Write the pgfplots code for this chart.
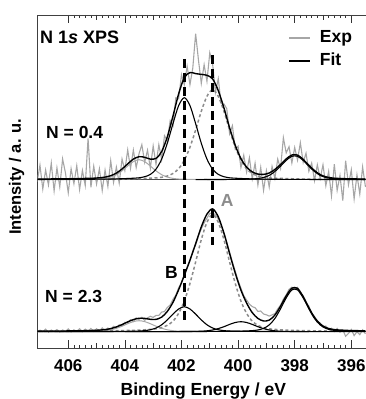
\documentclass[border=0pt]{standalone}
\usepackage{pgfplots}
\pgfplotsset{compat=1.18}
\usepackage{fontspec}
\setmainfont{Liberation Sans}
\definecolor{expgray}{HTML}{A6A6A6}
\definecolor{dashgray}{HTML}{8C8C8C}
\definecolor{compgray}{HTML}{A8A8A8}
\begin{document}
\begin{tikzpicture}
\useasboundingbox (0,0) rectangle (366pt,399pt);
\begin{axis}[
  at={(37.7pt,51pt)}, anchor=south west,
  scale only axis, width=330.3pt, height=333pt,
  xmin=395.41, xmax=407.08, ymin=-16.3, ymax=316.7,
  x dir=reverse,
  xtick={396,398,...,406},
  minor x tick num=9,
  extra x ticks={397,399,401,403,405},
  extra x tick labels={},
  extra x tick style={grid=none, major tick length=5pt},
  ytick=\empty,
  major tick length=8pt, minor tick length=3pt,
  tick style={black!80, line width=0.6pt},
  axis line style={black!75, line width=0.8pt},
  xtick pos=both,
  tick align=inside,
  /pgf/number format/assume math mode=true,
  /pgf/number format/1000 sep={},
  xticklabel style={font=\fontsize{17}{17}\selectfont\bfseries, anchor=base, yshift=-23.7pt, inner sep=0pt},
  legend style={at={(0.7587,0.957)}, anchor=north west, draw=none, fill=none,
    font=\fontsize{17.5}{17.5}\selectfont\bfseries, inner sep=0pt, row sep=6pt,
    nodes={inner sep=0pt, text height=13pt, text depth=4pt},
    /tikz/every odd column/.append style={column sep=9pt}},
  legend cell align=left,
  legend image code/.code={\draw[#1] (0pt,0pt) -- (21pt,0pt);},
]
% experimental, top
\addplot[expgray, line width=1.1pt] coordinates {(395.5,144.7)(395.6,164.7)(395.7,137.7)(395.8,156.8)(395.9,132.8)(396.0,161.9)(396.1,146.9)(396.2,171)(396.3,131.1)(396.4,156.2)(396.5,141.3)(396.6,167.5)(396.7,135.8)(396.8,160.3)(396.9,145.9)(397.0,166.9)(397.1,153.1)(397.2,166.9)(397.3,151.1)(397.4,168.6)(397.5,160.4)(397.6,178.5)(397.7,169.3)(397.8,189)(397.9,171.6)(398.0,184.2)(398.1,168.7)(398.2,185)(398.3,178.8)(398.4,194)(398.5,163.2)(398.6,172.6)(398.7,153.2)(398.8,165.3)(398.9,144.7)(399.0,160.9)(399.1,141.3)(399.2,164.4)(399.3,146.6)(399.4,168.5)(399.5,152.8)(399.6,174)(399.7,159.6)(399.8,176.5)(399.9,164.1)(400.0,185.5)(400.1,182.4)(400.2,206)(400.3,197.9)(400.4,223)(400.5,227.8)(400.6,228)(400.7,253)(400.8,239.5)(400.9,267.8)(401.0,279)(401.1,250.4)(401.2,267)(401.3,248.3)(401.4,271.7)(401.5,298.1)(401.6,263.8)(401.7,247.1)(401.8,265.5)(401.9,247.1)(402.0,257)(402.1,232.9)(402.2,234)(402.3,205.7)(402.4,211)(402.5,190.9)(402.6,196)(402.7,172.1)(402.8,187)(402.9,167.3)(403.0,185.7)(403.1,163.6)(403.2,181.5)(403.3,169.4)(403.4,187)(403.5,178)(403.6,164)(403.7,181.6)(403.8,163.3)(403.9,181.8)(404.0,161.2)(404.1,172.7)(404.2,148.5)(404.3,164.6)(404.4,149.2)(404.5,171)(404.6,145.2)(404.7,161.6)(404.8,141.2)(404.9,162.9)(405.0,147.7)(405.1,165.5)(405.2,144.4)(405.3,193.3)(405.4,146.2)(405.5,161.2)(405.6,142.1)(405.7,166)(405.8,148)(405.9,163)(406.0,138.9)(406.1,158.9)(406.2,172.8)(406.3,144.8)(406.4,163.8)(406.5,140.8)(406.6,168.7)(406.7,146.7)(406.8,161.7)(406.9,142.7)(407.0,166.6)(407.1,149.6)};
\addlegendentry{Exp}
% experimental, bottom
\addplot[expgray, line width=1.1pt, forget plot] coordinates {(395.5,-2.1)(395.6,1.9)(395.7,-3)(395.8,0)(395.9,-3.9)(396.0,2.2)(396.1,-1.8)(396.2,-4.6)(396.3,2)(396.4,-0.4)(396.5,3.3)(396.6,0.1)(396.7,3.5)(396.8,2.2)(396.9,5.7)(397.0,4.7)(397.1,8.8)(397.2,9.2)(397.3,15.3)(397.4,18)(397.5,25.6)(397.6,28.8)(397.7,36.1)(397.8,38)(397.9,44.3)(398.0,42.9)(398.1,44.5)(398.2,42.3)(398.3,36.8)(398.4,32.6)(398.5,26.5)(398.6,22.8)(398.7,18.1)(398.8,16.8)(398.9,15.6)(399.0,16.9)(399.1,17.7)(399.2,20.7)(399.3,20.3)(399.4,24)(399.5,25.1)(399.6,27.6)(399.7,31.7)(399.8,36)(399.9,43.6)(400.0,51)(400.1,60.6)(400.2,69.5)(400.3,79.7)(400.4,89.6)(400.5,98.6)(400.6,106.3)(400.7,112.9)(400.8,116.8)(400.9,118.8)(401.0,118.2)(401.1,113.6)(401.2,108.8)(401.3,102.8)(401.4,95.6)(401.5,87)(401.6,79.8)(401.7,70.6)(401.8,64.3)(401.9,57.3)(402.0,49)(402.1,44)(402.2,36.5)(402.3,32.4)(402.4,26.6)(402.5,24.3)(402.6,20.2)(402.7,19.6)(402.8,16.3)(402.9,16.3)(403.0,14.3)(403.1,15.4)(403.2,13.9)(403.3,11.3)(403.4,14.4)(403.5,12.4)(403.6,13.8)(403.7,10.1)(403.8,12)(403.9,8.8)(404.0,9.4)(404.1,6.1)(404.2,6.9)(404.3,3.8)(404.4,5.4)(404.5,2.1)(404.6,3.6)(404.7,1.1)(404.8,3.8)(404.9,0.6)(405.0,2.95)(405.1,0.3)(405.2,3.2)(405.3,0.6)(405.4,2.55)(405.5,0)(405.6,2.95)(405.7,0.4)(405.8,1.85)(405.9,-0.2)(406.0,2.77)(406.1,0.24)(406.2,1.7)(406.3,-0.32)(406.4,2.15)(406.5,0.12)(406.6,1.6)(406.7,-0.42)(406.8,2.56)(406.9,0.04)(407.0,1.53)(407.1,-0.48)};
% baselines
\addplot[black!70, line width=0.8pt, forget plot] coordinates {(395.41,152)(407.08,152)};
\addplot[black!70, line width=0.8pt, forget plot] coordinates {(395.41,0)(407.08,0)};
% top components
\addplot[compgray, line width=1pt, smooth, forget plot] coordinates {(400.5,152.1)(401.1,152.2)(401.5,152.3)(401.9,152.5)(402.1,152.7)(402.3,153.3)(402.5,154.6)(402.7,157)(402.9,160.9)(403.1,165.7)(403.3,170.1)(403.5,172)(403.7,170.1)(403.9,165.7)(404.1,160.9)(404.3,157)(404.5,154.6)(404.7,153.3)(404.9,152.7)(405.1,152.5)(405.5,152.3)(406.5,152.1)};
\addplot[dashgray, line width=1.5pt, dash pattern=on 3pt off 2.5pt, smooth, forget plot] coordinates {(395.5,152.26)(396.5,152.4)(397.5,152.6)(397.9,152.8)(398.3,153.1)(398.7,153.5)(398.9,153.8)(399.1,154.4)(399.3,155.7)(399.5,158.2)(399.7,163)(399.9,171.5)(400.1,184.5)(400.3,201.6)(400.5,220.4)(400.7,235.4)(400.9,242)(401.1,235.4)(401.3,220.4)(401.5,201.6)(401.7,184.5)(401.9,171.5)(402.1,163)(402.3,158.2)(402.5,155.7)(402.7,154.4)(402.9,153.8)(403.1,153.5)(403.5,153.1)(404.1,152.75)(405,152.5)(406,152.35)(407.1,152.27)};
\addplot[black, line width=1.1pt, smooth, forget plot] coordinates {(395.5,152.15)(396.5,152.2)(397.5,152.25)(398.5,152.4)(398.9,152.5)(399.5,152.8)(399.7,153.0)(399.9,153.2)(400.1,153.5)(400.3,153.9)(400.5,155.0)(400.7,157.3)(400.9,162.5)(401.1,172.6)(401.3,188.5)(401.5,208.1)(401.7,226.1)(401.9,234)(402.1,226.1)(402.3,208.1)(402.5,188.5)(402.7,172.6)(402.9,162.5)(403.1,157.3)(403.3,155.0)(403.5,153.9)(403.7,153.5)(403.9,153.2)(404.1,153.0)(404.3,152.8)(404.7,152.6)(405.5,152.4)(406.5,152.3)(407.1,152.2)};
\addplot[black, line width=1.1pt, smooth, forget plot] coordinates {(395.5,152.23)(395.9,152.32)(396.3,152.51)(396.5,152.7)(396.7,153.15)(396.9,154.2)(397.1,156.3)(397.3,160.2)(397.5,165.5)(397.7,171.3)(397.9,175.4)(398.1,175.4)(398.3,171.3)(398.5,165.5)(398.7,160.2)(398.9,156.3)(399.1,154.2)(399.3,153.15)(399.5,152.7)(399.9,152.4)(400.5,152.23)(401.5,152.12)};
% bottom components
\addplot[compgray, line width=1pt, smooth, forget plot] coordinates {(401.1,0.13)(401.5,0.2)(401.9,0.34)(402.1,0.55)(402.3,1.0)(402.5,1.9)(402.7,3.4)(402.9,5.5)(403.1,8.0)(403.3,10.1)(403.5,11)(403.7,10.1)(403.9,8.0)(404.1,5.5)(404.3,3.4)(404.5,1.9)(404.7,1.0)(404.9,0.55)(405.1,0.34)(405.3,0.24)(405.5,0.2)(405.9,0.13)(406.5,0.09)};
\addplot[dashgray, line width=1.5pt, dash pattern=on 3pt off 2.5pt, smooth, forget plot] coordinates {(395.5,0.39)(396.5,0.59)(397.1,0.78)(397.5,0.97)(397.9,1.22)(398.3,1.58)(398.7,2.3)(398.9,2.9)(399.1,4.1)(399.3,6.4)(399.5,10.5)(399.7,18.4)(399.9,30.6)(400.1,48.3)(400.3,69.7)(400.5,92.1)(400.7,109.4)(400.9,117)(401.1,109.4)(401.3,92.1)(401.5,69.7)(401.7,48.3)(401.9,30.6)(402.1,18.4)(402.3,10.5)(402.5,6.4)(402.7,4.1)(402.9,2.9)(403.1,2.3)(403.5,1.58)(404.1,1.09)(404.9,0.7)(405.9,0.45)(407.1,0.3)};
\addplot[black, line width=1.1pt, smooth, forget plot] coordinates {(395.5,0.05)(397.9,0.1)(398.9,0.18)(399.5,0.27)(399.9,0.39)(400.1,0.49)(400.3,0.67)(400.5,1.06)(400.7,1.95)(400.9,3.7)(401.1,6.9)(401.3,11.8)(401.5,17.6)(401.7,22.7)(401.9,25)(402.1,22.7)(402.3,17.6)(402.5,11.8)(402.7,6.9)(402.9,3.7)(403.1,1.95)(403.3,1.06)(403.5,0.67)(403.7,0.49)(403.9,0.39)(404.3,0.27)(405,0.15)(406,0.1)(407.1,0.07)};
\addplot[black, line width=1.1pt, smooth, forget plot] coordinates {(397.5,0.12)(397.9,0.18)(398.1,0.22)(398.3,0.31)(398.5,0.5)(398.7,0.9)(398.9,1.7)(399.1,3.1)(399.3,5.0)(399.5,7.3)(399.7,9.2)(399.9,10)(400.1,9.2)(400.3,7.3)(400.5,5.0)(400.7,3.1)(400.9,1.7)(401.1,0.9)(401.3,0.5)(401.5,0.31)(401.7,0.22)(401.9,0.18)(402.3,0.12)(402.9,0.08)(404,0.05)};
\addplot[black, line width=1.1pt, smooth, forget plot] coordinates {(395.5,0.37)(395.9,0.51)(396.3,0.78)(396.5,1.07)(396.7,1.72)(396.9,3.3)(397.1,6.8)(397.3,13.2)(397.5,22.9)(397.7,33.8)(397.9,41.8)(398.1,41.8)(398.3,33.8)(398.5,22.9)(398.7,13.2)(398.9,6.8)(399.1,3.3)(399.3,1.72)(399.5,1.07)(399.7,0.78)(399.9,0.61)(400.3,0.43)(400.9,0.28)(401.9,0.16)(403,0.1)(405,0.06)(407.1,0.04)};
% fits
\addplot[black, line width=1.4pt, smooth] coordinates {(395.5,152.7)(395.7,152.7)(395.9,152.8)(396.1,152.9)(396.3,153.1)(396.5,153.3)(396.7,153.8)(396.9,154.9)(397.1,157.1)(397.3,161.1)(397.5,166.4)(397.7,172.3)(397.9,176.6)(398.1,176.7)(398.3,172.8)(398.5,167.2)(398.7,162.2)(398.9,158.7)(399.1,157.3)(399.3,157.6)(399.5,159.8)(399.7,164.6)(399.9,173.1)(400.1,186.4)(400.3,203.9)(400.5,223.8)(400.7,241.1)(400.9,252.8)(401.1,256.4)(401.3,257.3)(401.5,258.1)(401.7,259.1)(401.9,254.1)(402.1,237.9)(402.3,215.7)(402.5,194.9)(402.7,180.1)(402.9,173.3)(403.1,172.6)(403.3,174.4)(403.5,175.0)(403.7,172.6)(403.9,167.8)(404.1,162.7)(404.3,158.6)(404.5,156.0)(404.7,154.6)(404.9,153.9)(405.1,153.5)(405.3,153.3)(405.5,153.2)(405.7,153.0)(405.9,153.0)(406.1,152.9)(406.3,152.8)(406.5,152.8)(406.7,152.7)(406.9,152.7)(407.1,152.6)};
\addlegendentry{Fit}
\addplot[black, line width=1.4pt, smooth, forget plot] coordinates {(395.5,0.88)(395.7,0.97)(395.9,1.1)(396.1,1.24)(396.3,1.47)(396.5,1.82)(396.7,2.53)(396.9,4.18)(397.1,7.77)(397.3,14.3)(397.5,24.1)(397.7,35.1)(397.9,43.3)(398.1,43.5)(398.3,35.8)(398.5,25.5)(398.7,16.6)(398.9,11.6)(399.1,10.7)(399.3,13.3)(399.5,19.1)(399.7,28.7)(399.9,41.6)(400.1,58.6)(400.3,78.2)(400.5,98.6)(400.7,114.9)(400.9,122.8)(401.1,117.6)(401.3,104.8)(401.5,88.0)(401.7,71.6)(401.9,56.3)(402.1,42.0)(402.3,29.4)(402.5,20.3)(402.7,14.6)(402.9,12.3)(403.1,12.4)(403.3,13.3)(403.5,13.4)(403.7,12.1)(403.9,9.8)(404.1,7.1)(404.3,4.8)(404.5,3.1)(404.7,2.1)(404.9,1.6)(405.1,1.3)(405.3,1.1)(405.5,0.98)(405.7,0.89)(405.9,0.79)(406.1,0.74)(406.3,0.68)(406.5,0.62)(406.7,0.58)(406.9,0.54)(407.1,0.52)};
% vertical dashed markers
\addplot[black, line width=2.6pt, dash pattern=on 9pt off 5pt, forget plot] coordinates {(401.9,272.7)(401.9,11.7)};
\addplot[black, line width=2.6pt, dash pattern=on 9pt off 5pt, forget plot] coordinates {(400.9,276.7)(400.9,86.7)};
\end{axis}
\begin{scope}[every node/.style={inner sep=0pt, font=\fontsize{17.5}{17.5}\selectfont\bfseries}]
\node[anchor=base west, font=\fontsize{18}{18}\selectfont\bfseries] at (40pt,355.7pt) {N 1\textit{s} XPS};
\node[anchor=base west] at (46pt,260pt) {N = 0.4};
\node[anchor=base west] at (45pt,96.3pt) {N = 2.3};
\node[anchor=base west] at (165pt,120.7pt) {B};
\node[anchor=base west, text=dashgray] at (220.7pt,192.3pt) {A};
\node[anchor=base] at (203.3pt,4pt) {Binding Energy / eV};
\node[rotate=90, font=\fontsize{16.5}{16.5}\selectfont\bfseries] at (16.7pt,222.3pt) {Intensity / a. u.};
\end{scope}
\end{tikzpicture}
\end{document}
